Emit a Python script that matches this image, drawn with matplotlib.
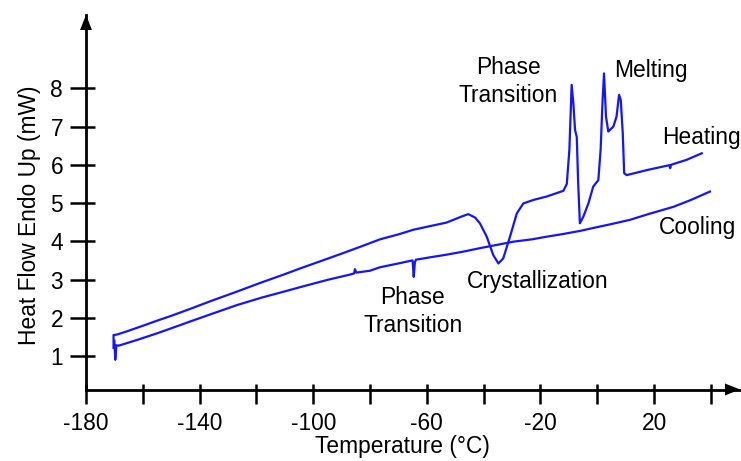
import matplotlib
matplotlib.use("Agg")
import matplotlib.pyplot as plt

plt.rcParams['font.family'] = ['Liberation Sans', 'DejaVu Sans']

# ---- data ----
heat_T = [-170.3, -170.3, -169.1, -165, -160, -155.1, -150, -143.4, -135.2, -127,
          -118.7, -110, -104.6, -97, -90.6, -84, -76.5, -70, -64.8, -58,
          -53.0, -48, -45.4, -43, -41.3, -38.9, -36.6, -34.8, -33.1, -30.7,
          -28.3, -26.0, -22.5, -17.8, -11.9, -10.7, -9.8, -9.0, -8.4, -7.8,
          -7.2, -6.7, -6.1, -4.9, -3.1, -1.4, 0.4, 1.2, 1.9, 2.4,
          3.1, 3.9, 5.7, 6.8, 7.7, 8.3, 9.0, 9.5, 10.4, 17.4,
          25.4, 25.7, 26.0, 31.5, 36.8]
heat_v = [1.21, 1.55, 1.56, 1.66, 1.79, 1.92, 2.05, 2.23, 2.46, 2.68,
          2.91, 3.14, 3.29, 3.49, 3.66, 3.84, 4.05, 4.18, 4.30, 4.41,
          4.49, 4.64, 4.71, 4.62, 4.47, 4.12, 3.64, 3.42, 3.55, 4.12,
          4.73, 4.99, 5.08, 5.17, 5.32, 5.50, 6.39, 8.09, 7.61, 6.91,
          6.73, 5.52, 4.47, 4.64, 4.99, 5.43, 5.60, 6.39, 7.69, 8.39,
          7.26, 6.87, 7.00, 7.26, 7.83, 7.69, 6.82, 5.78, 5.73, 5.86,
          5.99, 5.91, 6.00, 6.13, 6.30]

cool_T = [-170.0, -169.7, -169.3, -168.5, -162, -155.1, -149, -143.4, -135, -126.9,
          -118, -110, -104.6, -95, -87, -85.6, -85.3, -84.8, -80, -76.5,
          -70, -65.0, -64.6, -64.2, -63.8, -62, -58.9, -53, -47.1, -41.3,
          -35, -29.5, -23, -17.8, -12, -6.1, 0, 5, 11.5, 18,
          26.8, 33, 39.7]
cool_v = [1.40, 0.90, 1.28, 1.27, 1.42, 1.59, 1.75, 1.90, 2.12, 2.33,
          2.53, 2.69, 2.80, 2.99, 3.13, 3.16, 3.27, 3.18, 3.23, 3.32,
          3.42, 3.50, 3.07, 3.45, 3.52, 3.54, 3.58, 3.65, 3.73, 3.82,
          3.91, 3.99, 4.05, 4.12, 4.19, 4.27, 4.37, 4.45, 4.56, 4.71,
          4.90, 5.08, 5.30]

x_ticks = [-180, -160, -140, -120, -100, -80, -60, -40, -20, 0, 20, 40]
x_labels = ['-180', '', '-140', '', '-100', '', '-60', '', '-20', '', '20', '']
y_ticks = [1, 2, 3, 4, 5, 6, 7, 8]

W, H = 741, 461
FS = 16.4
LINE = '#1414ff'

fig = plt.figure(figsize=(W / 100, H / 100), dpi=100)
def fx(x): return x / W
def fy(y): return 1 - y / H

ax = fig.add_axes([fx(86), fy(389.5), (740 - 86) / W, (389.5 - 15) / H])
ax.plot(heat_T, heat_v, color=LINE, lw=1.6, solid_joinstyle='round')
ax.plot(cool_T, cool_v, color=LINE, lw=1.6, solid_joinstyle='round')

ax.set_xlim(-180, 50.28)
ax.set_ylim(0.124, 9.917)
for s in ['top', 'right']:
    ax.spines[s].set_visible(False)
for s in ['left', 'bottom']:
    ax.spines[s].set_linewidth(2.0)

ax.set_xticks(x_ticks)
ax.set_xticklabels(x_labels)
ax.set_xticks(x_ticks, minor=True)
ax.set_yticks(y_ticks)
ax.set_yticks(y_ticks, minor=True)
ax.xaxis.remove_overlapping_locs = False
ax.yaxis.remove_overlapping_locs = False
ax.tick_params(axis='x', which='major', direction='out', length=10, width=1.8, pad=6, labelsize=FS)
ax.tick_params(axis='x', which='minor', direction='in', length=4.3, width=1.8)
ax.tick_params(axis='y', which='major', direction='out', length=11.5, width=1.8, pad=5, labelsize=FS)
ax.tick_params(axis='y', which='minor', direction='in', length=6.5, width=1.8)

# arrow heads on axes
ax.annotate('', xy=(0, 1), xytext=(0, 0.95), xycoords='axes fraction',
            arrowprops=dict(arrowstyle='-|>,head_length=1.08,head_width=0.43',
                            mutation_scale=10, color='black', lw=0.01,
                            shrinkA=0, shrinkB=0), annotation_clip=False)
ax.annotate('', xy=(1, 0), xytext=(0.97, 0), xycoords='axes fraction',
            arrowprops=dict(arrowstyle='-|>,head_length=1.08,head_width=0.43',
                            mutation_scale=10, color='black', lw=0.01,
                            shrinkA=0, shrinkB=0), annotation_clip=False)

fig.text(fx(29.5), fy(215), 'Heat Flow Endo Up (mW)', rotation=90,
         ha='center', va='center', fontsize=FS)
fig.text(fx(402), fy(446), 'Temperature (°C)', ha='center', va='center', fontsize=FS)

notes = [
    ('Phase', 508, 67), ('Transition', 508, 96),
    ('Melting', 651, 71),
    ('Heating', 701, 137),
    ('Cooling', 697, 227),
    ('Crystallization', 538, 281),
    ('Phase', 412, 298), ('Transition', 413, 326),
]
for t, x, y in notes:
    fig.text(fx(x), fy(y), t, ha='center', va='center', fontsize=FS)

fig.savefig('out.png', dpi=100, facecolor='white')
